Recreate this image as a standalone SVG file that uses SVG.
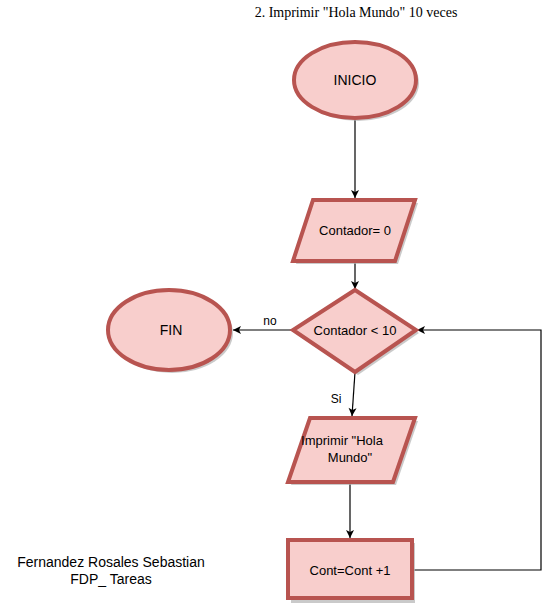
<svg xmlns="http://www.w3.org/2000/svg" width="549" height="606" viewBox="0 0 549 606">
<style>
.sh{fill:#b3b3b3;stroke:none;opacity:0.7}
.nd{fill:#f8cecc;stroke:#b85450;stroke-width:4}
.t{font-family:"Comic Sans MS","Liberation Sans",sans-serif;font-size:13px;fill:#000;text-anchor:middle;dominant-baseline:central}
.c{fill:none;stroke:#000;stroke-width:1.2}
</style>
<defs>
<marker id="ah" markerWidth="10" markerHeight="10" refX="9" refY="5" orient="auto" markerUnits="userSpaceOnUse">
<path d="M1,1 L9,5 L1,9 L3,5 Z" fill="#000"/>
</marker>
</defs>
<rect width="549" height="606" fill="#fff"/>
<text x="356" y="12" font-family="Liberation Serif, serif" font-size="14" text-anchor="middle" dominant-baseline="central">2. Imprimir "Hola Mundo" 10 veces</text>
<g id="connectors">
<path class="c" d="M355,120 L355,198" marker-end="url(#ah)"/>
<path class="c" d="M355,262 L355,289" marker-end="url(#ah)"/>
<path class="c" d="M293,330 L233,330" marker-end="url(#ah)"/>
<path class="c" d="M355,372 L352,416" marker-end="url(#ah)"/>
<path class="c" d="M350,484 L350,538" marker-end="url(#ah)"/>
<path class="c" d="M413,570 L541,570 L541,330 L417,330" marker-end="url(#ah)"/>
<text class="t" x="270" y="321" style="font-size:12px">no</text>
<text class="t" x="336" y="399" style="font-size:12px">Si</text>
</g>
<g id="inicio">
<ellipse class="sh" cx="358" cy="83" rx="61" ry="38"/>
<ellipse class="nd" cx="355" cy="80" rx="61" ry="38"/>
<text class="t" x="355" y="80" style="font-size:14px">INICIO</text>
</g>
<g id="contador0">
<polygon class="sh" points="316,203 418,203 398,264 296,264"/>
<polygon class="nd" points="313,200 415,200 395,261 293,261"/>
<text class="t" x="355" y="230">Contador= 0</text>
</g>
<g id="decision">
<polygon class="sh" points="358,293 419,333 358,375 296,333"/>
<polygon class="nd" points="355,290 416,330 355,372 293,330"/>
<text class="t" x="355" y="330">Contador &lt; 10</text>
</g>
<g id="fin">
<ellipse class="sh" cx="172" cy="333" rx="61" ry="40"/>
<ellipse class="nd" cx="169" cy="330" rx="61" ry="40"/>
<text class="t" x="171" y="330" style="font-size:14px">FIN</text>
</g>
<g id="imprimir">
<polygon class="sh" points="313,421 418,421 396,485 291,485"/>
<polygon class="nd" points="310,418 415,418 393,482 288,482"/>
<text class="t" x="342" y="440">Imprimir "Hola</text>
<text class="t" x="350" y="457">Mundo"</text>
</g>
<g id="incremento">
<rect class="sh" x="291" y="543" width="124" height="60"/>
<rect class="nd" x="288" y="540" width="124" height="58"/>
<text class="t" x="350" y="570">Cont=Cont +1</text>
</g>
<g id="autor">
<text class="t" x="111" y="562" style="font-size:14px">Fernandez Rosales Sebastian</text>
<text class="t" x="111" y="579" style="font-size:14px">FDP_ Tareas</text>
</g>
</svg>
